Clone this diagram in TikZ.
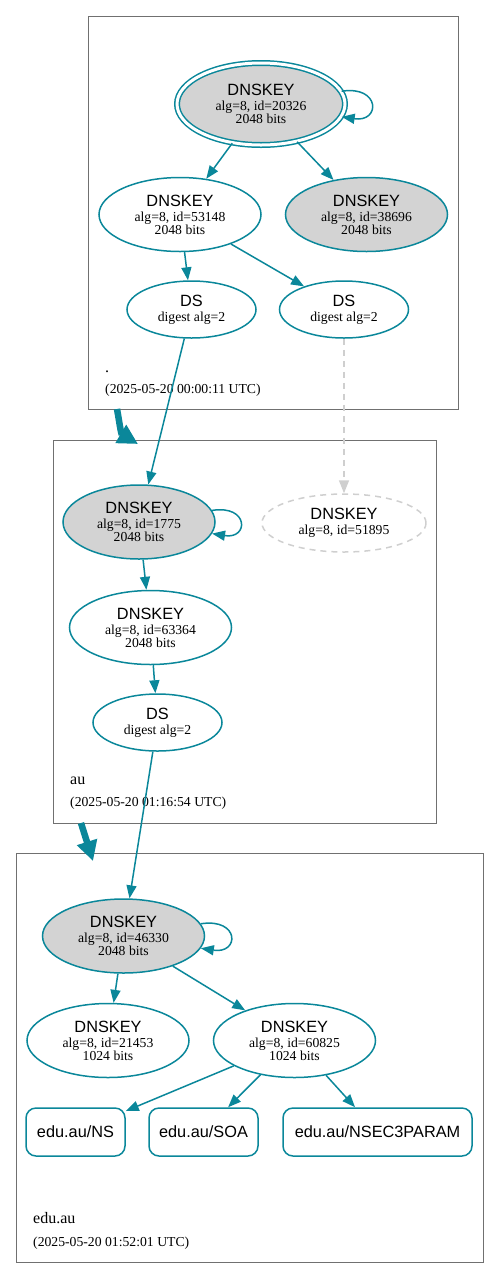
\documentclass[tikz,border=0pt]{standalone}
\usepackage{fontspec}
\setmainfont{Liberation Serif}
\setsansfont{Liberation Sans}
\usetikzlibrary{shapes.geometric}
\usetikzlibrary{arrows.meta}
\usetikzlibrary{calc}
\definecolor{dnsteal}{HTML}{0A879A}
\definecolor{keygray}{HTML}{D3D3D3}
\definecolor{missgray}{HTML}{CFCFCF}
\definecolor{zonegray}{HTML}{707070}
\newcommand{\keyname}[1]{{\sffamily\fontsize{16.3}{16}\selectfont #1}}

\begin{document}
\begin{tikzpicture}[x=1pt, y=-1pt, ->,
            >={Triangle[length=13pt,width=10pt]},
            font=\fontsize{13.7}{13}\selectfont,
            zone/.style = {draw=zonegray, line width=0.9pt},
            key/.style = {ellipse, draw=dnsteal, line width=1.5pt,
                inner sep=0pt, align=center,
                minimum width=162pt, minimum height=74pt},
            ksk/.style = {key, fill=keygray},
            dsrec/.style = {key, minimum width=129pt, minimum height=57pt},
            rrset/.style = {rectangle, rounded corners=10pt, draw=dnsteal,
                line width=1.5pt, minimum height=48pt,
                font=\sffamily\fontsize{16.3}{16}\selectfont},
            link/.style = {color=dnsteal, line width=1.5pt},
            missing/.style = {color=missgray, dash pattern=on 6pt off 5pt},
            zonelink/.style = {color=dnsteal, line width=6.5pt,
                -{Triangle[length=20pt,width=20pt]}},
            zonename/.style = {anchor=base west, inner sep=0pt,
                font=\fontsize{16}{16}\selectfont},
            zonetime/.style = {anchor=base west, inner sep=0pt}]
            \useasboundingbox (0,0) rectangle (499,1278);
            % zones
            \draw[zone] (88,16) rectangle (458,409);
            \draw[zone] (53,440) rectangle (436,823);
            \draw[zone] (16,853) rectangle (483,1262);
            \node[zonename] (n1) at (105,372) {.};
            \node[zonetime] (t1) at (105,393) {(2025-05-20 00:00:11 UTC)};
            \node[zonename] (n2) at (70,784) {au};
            \node[zonetime] (t2) at (70,806) {(2025-05-20 01:16:54 UTC)};
            \node[zonename] (n3) at (33,1223) {edu.au};
            \node[zonetime] (t3) at (33,1246) {(2025-05-20 01:52:01 UTC)};
            % root zone
            \node[ksk, double=white, double distance=3pt,
                minimum width=168pt, minimum height=82pt] (r1) at (261,104)
                {\keyname{DNSKEY}\\[1.8pt]alg=8, id=20326\\2048 bits};
            \node[key] (r2) at (180,214.5) {\keyname{DNSKEY}\\[1.8pt]alg=8, id=53148\\2048 bits};
            \node[ksk] (r3) at (366.5,214.5) {\keyname{DNSKEY}\\[1.8pt]alg=8, id=38696\\2048 bits};
            \node[dsrec] (r4) at (191.5,309.5) {\keyname{DS}\\[1.8pt]digest alg=2};
            \node[dsrec] (r5) at (344,309.5) {\keyname{DS}\\[1.8pt]digest alg=2};
            % au zone
            \node[ksk, minimum width=152pt] (a1) at (139,522) {\keyname{DNSKEY}\\[1.8pt]alg=8, id=1775\\2048 bits};
            \node[key, draw=missgray, dash pattern=on 6pt off 5pt,
                minimum width=164pt, minimum height=58pt] (a2) at (344,523)
                {\keyname{DNSKEY}\\[1.8pt]alg=8, id=51895};
            \node[key] (a3) at (150.5,627.5) {\keyname{DNSKEY}\\[1.8pt]alg=8, id=63364\\2048 bits};
            \node[dsrec] (a4) at (157.5,722.5) {\keyname{DS}\\[1.8pt]digest alg=2};
            % edu.au zone
            \node[ksk] (e1) at (123.5,936) {\keyname{DNSKEY}\\[1.8pt]alg=8, id=46330\\2048 bits};
            \node[key] (e2) at (108,1040.5) {\keyname{DNSKEY}\\[1.8pt]alg=8, id=21453\\1024 bits};
            \node[key] (e3) at (294.5,1040.5) {\keyname{DNSKEY}\\[1.8pt]alg=8, id=60825\\1024 bits};
            \node[rrset, minimum width=99pt] (e4) at (75.5,1132) {edu.au/NS};
            \node[rrset, minimum width=109pt] (e5) at (203.5,1132) {edu.au/SOA};
            \node[rrset, minimum width=189pt] (e6) at (377.5,1132) {edu.au/NSEC3PARAM};
            % signatures and digests
            \path[link]
                (r1) edge (r2)
                (r1) edge (r3)
                (r2) edge (r4)
                (r2) edge (r5)
                (r4) edge (a1)
                (a1) edge (a3)
                (a3) edge (a4)
                (a4) edge (e1)
                (e1) edge (e2)
                (e1) edge (e3)
                (e3) edge (e4)
                (e3) edge (e5)
                (e3) edge (e6);
            \path[link] (r5) edge[missing] (a2);
            \draw[link] (r1.9) .. controls ($(r1.9)+(39,-6)$) and ($(r1.-9)+(39,6)$) .. (r1.-9);
            \draw[link] (a1.9) .. controls ($(a1.9)+(37,-6)$) and ($(a1.-9)+(37,6)$) .. (a1.-9);
            \draw[link] (e1.9) .. controls ($(e1.9)+(39,-6)$) and ($(e1.-9)+(39,6)$) .. (e1.-9);
            % delegations
            \coordinate (z1) at (117,409);
            \coordinate (z2) at (138,444);
            \coordinate (z3) at (81,823);
            \coordinate (z4) at (93,861);
            \draw[zonelink] (z1) .. controls (119,420) and (121,434) .. (z2);
            \draw[zonelink] (z3) -- (z4);
        \end{tikzpicture}
\end{document}
